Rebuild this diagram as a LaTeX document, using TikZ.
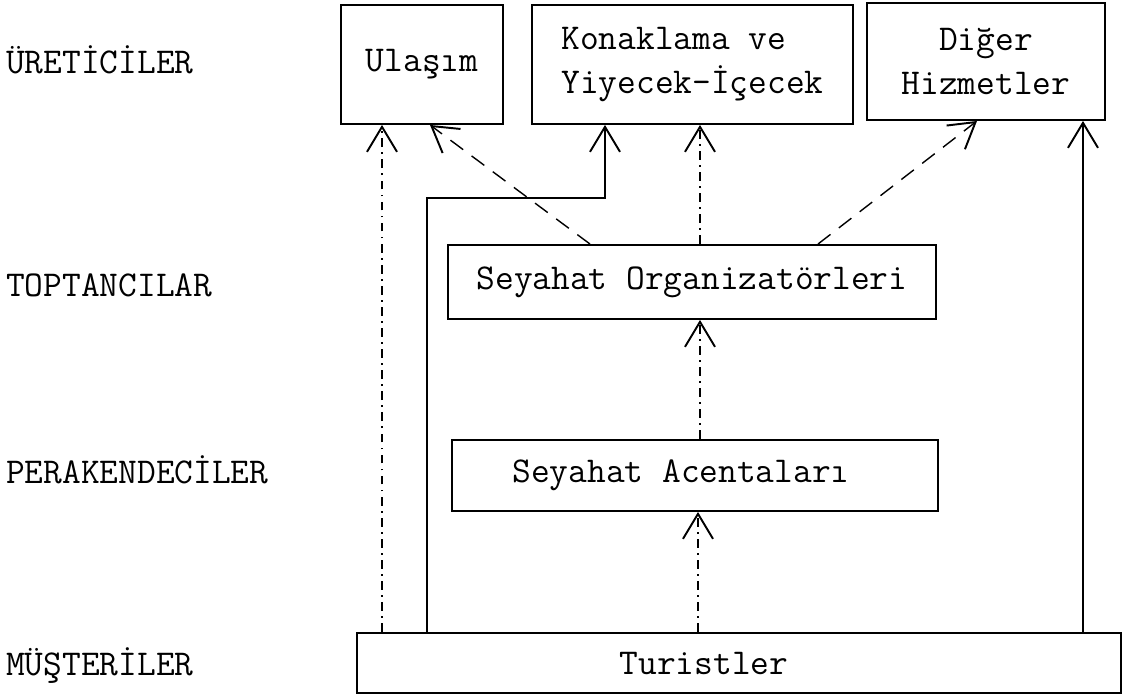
\documentclass[tikz,border=0pt]{standalone}
\usepackage{fontspec}
\usetikzlibrary{arrows.meta}
\begin{document}
\begin{tikzpicture}[x=0.02cm,y=-0.02cm,
    every node/.style={font=\ttfamily\fontsize{20.7}{25}\selectfont},
    box/.style={draw,line width=1.1pt,inner sep=0pt},
    tip/.style={-{Straight Barb[length=5mm,width=6mm,line width=1.1pt]}},
    solidline/.style={tip,line width=1pt},
    dashline/.style={tip,line width=0.8pt,dash pattern=on 9pt off 6pt},
    dotline/.style={tip,line width=0.6pt,dash pattern=on 5pt off 3pt on 1pt off 3pt}]
  \useasboundingbox (0,0) rectangle (1126,699);
  \draw
    (0,60) node[anchor=west] (ureticiler){ÜRETİCİLER}
    (0,285) node[anchor=west] (toptancilar){TOPTANCILAR}
    (0,470) node[anchor=west] (perakendeciler){PERAKENDECİLER}
    (0,666) node[anchor=west] (musteriler){MÜŞTERİLER}
    (422,64.5) node[box,minimum width=3.24cm,minimum height=2.38cm] (ulasim){Ulaşım}
    (692.5,64.5) node[box,minimum width=6.42cm,minimum height=2.38cm,align=left] (konak){Konaklama ve\\Yiyecek-İçecek}
    (986,61.5) node[box,minimum width=4.76cm,minimum height=2.34cm,align=center] (diger){Diğer\\Hizmetler}
    (692,282) node[box,minimum width=9.76cm,minimum height=1.48cm] (org){Seyahat Organizatörleri}
    (695,475.5) node[box,minimum width=9.72cm,minimum height=1.42cm] (acenta){Seyahat Acentaları\hspace*{0.56cm}}
    (739,663) node[box,minimum width=15.28cm,minimum height=1.2cm] (turist){Turistler\hspace*{1.4cm}};
  \coordinate (bend) at (605,198);
  \begin{scope}
    \draw[dotline] (turist.north -| 382,0) to (ulasim.south -| 382,0);
    \draw[solidline] (turist.north -| 427,0) |- (bend) -- (konak.south -| bend);
    \draw[dashline] (org.north -| 590,0) to (ulasim.south -| 430,0);
    \draw[dotline] (org.north -| 700,0) to (konak.south -| 700,0);
    \draw[dashline] (org.north -| 818,0) to (diger.south -| 977,0);
    \draw[dotline] (acenta.north -| 700,0) to (org.south -| 700,0);
    \draw[dotline] (turist.north -| 698,0) to (acenta.south -| 698,0);
    \draw[solidline] (turist.north -| 1083,0) to (diger.south -| 1083,0);
  \end{scope}
\end{tikzpicture}
\end{document}
